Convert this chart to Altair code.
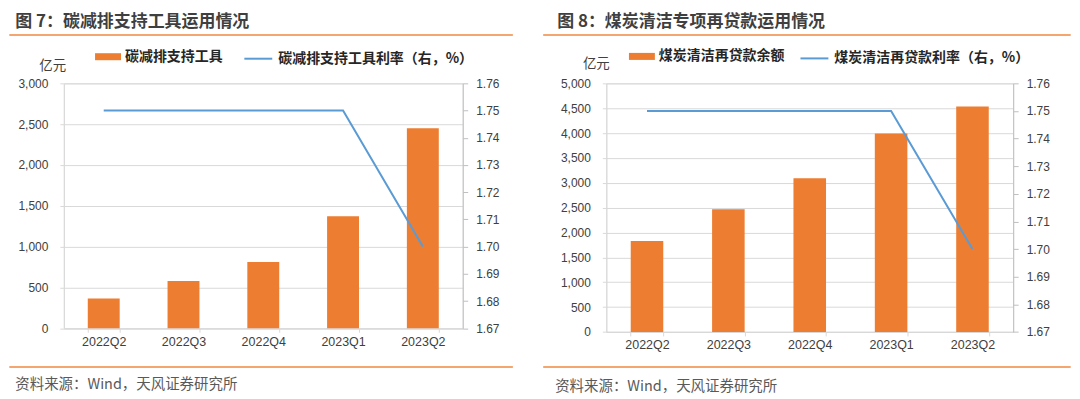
import altair as alt
import pandas as pd

# ---- data ----
quarters = ["2022Q2", "2022Q3", "2022Q4", "2023Q1", "2023Q2"]

left_title = "图 7：碳减排支持工具运用情况"
left_bar_name = "碳减排支持工具"
left_line_name = "碳减排支持工具利率（右，%）"
left_bars = [365, 578, 810, 1372, 2450]
left_rates = [1.75, 1.75, 1.75, 1.75, 1.70]
left_ticks = [0, 500, 1000, 1500, 2000, 2500, 3000]

right_title = "图 8：煤炭清洁专项再贷款运用情况"
right_bar_name = "煤炭清洁再贷款余额"
right_line_name = "煤炭清洁再贷款利率（右，%）"
right_bars = [1827, 2469, 3092, 3989, 4533]
right_rates = [1.75, 1.75, 1.75, 1.75, 1.70]
right_ticks = [0, 500, 1000, 1500, 2000, 2500, 3000, 3500, 4000, 4500, 5000]

rate_ticks = [1.67, 1.68, 1.69, 1.70, 1.71, 1.72, 1.73, 1.74, 1.75, 1.76]
unit_label = "亿元"
source_label = "资料来源：Wind，天风证券研究所"

ORANGE = "#ED7D31"
BLUE = "#5B9BD5"
RULE = "#F0883E"
CJK = "Noto Sans CJK SC"
NUM = "Liberation Sans"

RECT_PATH = "M-1,-0.27L1,-0.27L1,0.27L-1,0.27Z"


def panel(title, bar_name, line_name, bars, rates, ticks, ymax, w, h, lay):
    df = pd.DataFrame({
        "q": quarters,
        "v": bars,
        "r": rates,
        "bs": [bar_name] * len(quarters),
        "ls": [line_name] * len(quarters),
    })
    xenc = alt.X(
        "q:N", sort=quarters, title=None,
        scale=alt.Scale(paddingInner=0.6, paddingOuter=0.3),
        axis=alt.Axis(labelAngle=0, labelFont=NUM, labelFontSize=12.5, labelColor="#404040",
                      labelPadding=3, tickBand="extent", ticks=True, tickSize=4,
                      tickColor="#D9D9D9", domainColor="#D9D9D9", grid=False),
    )
    bar = alt.Chart(df).mark_bar(color=ORANGE).encode(
        x=xenc,
        y=alt.Y("v:Q", title=None,
                scale=alt.Scale(domain=[0, ymax], nice=False),
                axis=alt.Axis(orient="left", values=ticks, format=",.0f", grid=True,
                              gridColor="#D9D9D9", domainColor="#D9D9D9", tickColor="#D9D9D9",
                              tickSize=4, labelPadding=12, labelFont=NUM, labelFontSize=12,
                              labelColor="#404040")),
        color=alt.Color("bs:N", title=None,
                        scale=alt.Scale(domain=[bar_name], range=[ORANGE]),
                        legend=alt.Legend(orient="none", legendX=lay["l1x"], legendY=lay["ly"],
                                          symbolType=RECT_PATH, symbolSize=676,
                                          symbolStrokeWidth=0, padding=0, labelOffset=4,
                                          labelFont=CJK, labelFontSize=14, labelFontWeight="bold",
                                          labelColor="#262626", labelLimit=400)),
    )
    line = alt.Chart(df).mark_line(strokeWidth=2).encode(
        x=alt.X("q:N", sort=quarters),
        y=alt.Y("r:Q", title=None,
                scale=alt.Scale(domain=[1.67, 1.76], nice=False, zero=False),
                axis=alt.Axis(orient="right", values=rate_ticks, format=".2f", grid=False,
                              domainColor="#BFBFBF", tickColor="#BFBFBF", tickSize=5,
                              labelPadding=8, labelFont=NUM, labelFontSize=12,
                              labelColor="#404040")),
        stroke=alt.Stroke("ls:N", title=None,
                          scale=alt.Scale(domain=[line_name], range=[BLUE]),
                          legend=alt.Legend(orient="none", legendX=lay["l2x"], legendY=lay["ly"],
                                            symbolType="stroke", symbolSize=784,
                                            symbolStrokeWidth=2, padding=0, labelOffset=5,
                                            labelFont=CJK, labelFontSize=14,
                                            labelFontWeight="bold", labelColor="#262626",
                                            labelLimit=400)),
    )
    title_t = alt.Chart(pd.DataFrame({"t": [title]})).mark_text(
        align="left", baseline="middle", font=CJK, fontSize=17, fontWeight="bold",
        color="#3F3F3F").encode(text="t:N", x=alt.value(lay["tx"]), y=alt.value(lay["ty"]))
    unit_t = alt.Chart(pd.DataFrame({"t": [unit_label]})).mark_text(
        align="center", baseline="middle", font=CJK, fontSize=13.5,
        color="#404040").encode(text="t:N", x=alt.value(lay["ux"]), y=alt.value(lay["uy"]))
    src_t = alt.Chart(pd.DataFrame({"t": [source_label]})).mark_text(
        align="left", baseline="middle", font=CJK, fontSize=14.5,
        color="#595959").encode(text="t:N", x=alt.value(lay["sx"]), y=alt.value(lay["sy"]))
    one = pd.DataFrame({"k": [0]})
    rule_top = alt.Chart(one).mark_rule(color=RULE, strokeWidth=1.5).encode(
        x=alt.value(lay["rx1"]), x2=alt.value(lay["rx2"]), y=alt.value(lay["rty"]))
    rule_bot = alt.Chart(one).mark_rule(color=RULE, strokeWidth=1.5).encode(
        x=alt.value(lay["rx1"]), x2=alt.value(lay["rx2"]), y=alt.value(lay["rby"]))
    return alt.layer(bar, line, title_t, unit_t, src_t, rule_top, rule_bot).resolve_scale(
        y="independent", color="independent", stroke="independent"
    ).properties(width=w, height=h)


left = panel(left_title, left_bar_name, left_line_name, left_bars, left_rates, left_ticks,
             3000, 400, 245.6,
             dict(l1x=31.3, l2x=180, ly=-39.7, tx=-48.7, ty=-61.5, ux=-11.2, uy=-17,
                  sx=-48.7, sy=303, rx1=-54.7, rx2=450.3, rty=-48.5, rby=284.4))
right = panel(right_title, right_bar_name, right_line_name, right_bars, right_rates, right_ticks,
              5000, 408, 249.3,
              dict(l1x=22.7, l2x=193.7, ly=-40, tx=-49.3, ty=-61.5, ux=-10, uy=-19,
                   sx=-51.3, sy=304.5, rx1=-63.3, rx2=465.7, rty=-48.5, rby=284.4))

chart = alt.hconcat(left, right, spacing=27).properties(
    padding={"left": 0, "top": 4, "right": 0, "bottom": 0}
).configure_view(strokeWidth=0).configure(background="white")

chart.save("out.html", embed_options={"renderer": "svg", "actions": False})
